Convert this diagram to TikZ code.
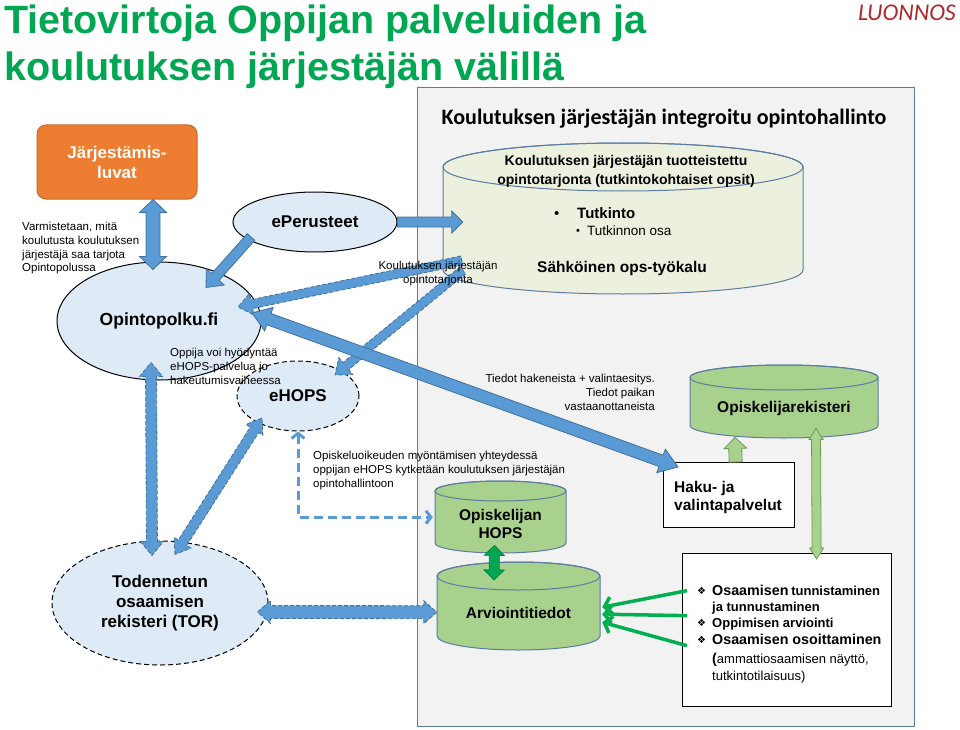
\documentclass[tikz,border=0pt]{standalone}
\usepackage{fontspec}
\setmainfont{Liberation Sans}
\newfontfamily\calibri{Carlito}
\newfontfamily\djv{DejaVu Sans}
\usetikzlibrary{shapes.geometric,arrows.meta,calc}
\definecolor{titlegreen}{HTML}{00A651}
\definecolor{draftred}{HTML}{B0262B}
\definecolor{panelfill}{HTML}{F2F2F2}
\definecolor{panelline}{HTML}{5B7BA0}
\definecolor{cyl1fill}{HTML}{EBF1DE}
\definecolor{cylborder}{HTML}{5B7BA0}
\definecolor{gcyl}{HTML}{A9D18E}
\definecolor{bluefill}{HTML}{5B9BD5}
\definecolor{blueline}{HTML}{41719C}
\definecolor{ellfill}{HTML}{DEEBF7}
\definecolor{orangefill}{HTML}{ED7D31}
\definecolor{orangeline}{HTML}{C96A2A}
\definecolor{lgreen}{HTML}{A9D18E}
\definecolor{lgreenline}{HTML}{6F9A52}
\definecolor{dgreen}{HTML}{00A651}
\definecolor{dgreenline}{HTML}{00843F}
\definecolor{bgreen}{HTML}{00B050}
\newcommand\fs[2]{\fontsize{#1}{#2}\selectfont}
\tikzset{
 lbl/.style={inner sep=0pt, font=\fs{11.5}{13.8}, align=left},
 ell/.style={ellipse, draw=black, line width=1pt, fill=ellfill, inner sep=0pt, align=center, font=\bfseries\fs{17}{20}},
 elldash/.style={ell, dash pattern=on 5pt off 3pt},
 cylline/.style={draw=cylborder, line width=1pt},
 fatblue/.style={fill=bluefill, draw=blueline, line width=0.8pt, line join=miter},
 fatdash/.style={fatblue, dash pattern=on 4pt off 2pt},
 fatlgreen/.style={fill=lgreen, draw=lgreenline, line width=0.8pt},
 fatdgreen/.style={fill=dgreen, draw=dgreenline, line width=0.8pt},
 gline/.style={draw=bgreen, line width=3.5pt, -{Straight Barb[length=7pt,width=17pt]}},
 dline/.style={draw=bluefill, line width=3pt, dash pattern=on 9pt off 5pt, {Straight Barb[length=5pt,width=13pt]}-{Straight Barb[length=5pt,width=13pt]}},
 whitebox/.style={draw=black, line width=1.3pt, fill=white, inner sep=0pt},
 cyltext/.style={inner sep=0pt, font=\bfseries\fs{15.5}{18.5}, align=center},
}
% fat single arrow: [style]{start}{end}{half shaft}{half head}{head length}
\newcommand\fatarrow[6][]{%
  \coordinate (faS) at #2;
  \coordinate (faE) at #3;
  \coordinate (faP) at ($(faE)!#6!(faS)$);
  \draw[#1] ($(faS)!#4!90:(faE)$) -- ($(faP)!#4!-90:(faS)$) -- ($(faP)!#5!-90:(faS)$) -- (faE)
    -- ($(faP)!#5!90:(faS)$) -- ($(faP)!#4!90:(faS)$) -- ($(faS)!#4!-90:(faE)$) -- cycle;
}
% fat double arrow
\newcommand\fatdarrow[6][]{%
  \coordinate (faS) at #2;
  \coordinate (faE) at #3;
  \coordinate (faP) at ($(faE)!#6!(faS)$);
  \coordinate (faQ) at ($(faS)!#6!(faE)$);
  \draw[#1] (faS) -- ($(faQ)!#5!90:(faE)$) -- ($(faQ)!#4!90:(faE)$) -- ($(faP)!#4!-90:(faS)$)
    -- ($(faP)!#5!-90:(faS)$) -- (faE) -- ($(faP)!#5!90:(faS)$) -- ($(faP)!#4!90:(faS)$)
    -- ($(faQ)!#4!-90:(faE)$) -- ($(faQ)!#5!-90:(faE)$) -- cycle;
}
% cylinder outline: {cx}{top}{bottom}{rx}{ry}{fill}
\newcommand\cylshape[6]{%
  \filldraw[cylline, fill=#6] ({#1-#4},{#2+#5}) -- ({#1-#4},{#3-#5})
    arc[start angle=180, end angle=360, x radius=#4pt, y radius=#5pt]
    -- ({#1+#4},{#2+#5})
    arc[start angle=0, end angle=180, x radius=#4pt, y radius=#5pt] -- cycle;
  \draw[cylline] ({#1},{#2+#5}) ellipse[x radius=#4pt, y radius=#5pt];
}
\begin{document}
\begin{tikzpicture}[x=1pt,y=-1pt]
\useasboundingbox (0,0) rectangle (960,730);
\fill[white] (0,0) rectangle (960,730);

% title
\node[anchor=base west, inner sep=0pt, text=titlegreen, font=\bfseries\fs{39.5}{47}] (t1) at (4,34) {Tietovirtoja Oppijan palveluiden ja};
\node[anchor=base west, inner sep=0pt, text=titlegreen, font=\bfseries\fs{39.5}{47}] (t2) at (4,81) {koulutuksen järjestäjän välillä};
\node[anchor=base east, inner sep=0pt, text=draftred, font=\calibri\itshape\fs{24}{28}] (draft) at (956,21) {LUONNOS};

% panel
\node[draw=panelline, line width=1.2pt, fill=panelfill, minimum width=497pt, minimum height=639pt, anchor=north west, inner sep=0pt] (panel) at (417,87) {};
\node[anchor=base, inner sep=0pt, font=\calibri\bfseries\fs{22}{26}] (ptitle) at (664,125) {Koulutuksen järjestäjän integroitu opintohallinto};

% cylinders
\cylshape{623}{143}{294}{180}{24}{cyl1fill}
\node[inner sep=0pt, minimum width=360pt, minimum height=151pt, anchor=north] (cyl1) at (623,143) {};
\cylshape{784}{365}{438}{94}{12.5}{gcyl}
\node[inner sep=0pt, minimum width=188pt, minimum height=73pt, anchor=north] (rek) at (784,365) {};
\cylshape{500.5}{481}{553}{65.5}{10}{gcyl}
\node[inner sep=0pt, minimum width=131pt, minimum height=72pt, anchor=north] (hops) at (500.5,481) {};
\cylshape{518.5}{562}{650}{81.5}{14}{gcyl}
\node[inner sep=0pt, minimum width=163pt, minimum height=88pt, anchor=north] (arv) at (518.5,562) {};

% boxes
\node[whitebox, minimum width=131pt, minimum height=65pt, anchor=north west] (haku) at (663,462) {};
\node[whitebox, minimum width=209pt, minimum height=153pt, anchor=north west] (box) at (682,553) {};

% outside nodes
\node[draw=orangeline, line width=1pt, fill=orangefill, rounded corners=9pt, minimum width=160pt, minimum height=74pt, text=white, font=\bfseries\fs{17}{20}, align=center, inner sep=0pt] (org) at (117,162) {Järjestämis-\\luvat};
\node[ell, minimum width=164pt, minimum height=60pt] (eper) at (315,222) {ePerusteet};
\node[ell, minimum width=204pt, minimum height=118pt, font=\bfseries\fs{17.5}{20}] (opf) at (159,321) {Opintopolku.fi};
\node[elldash, minimum width=122pt, minimum height=70pt] (ehops) at (298,396) {eHOPS};
\node[elldash, minimum width=216pt, minimum height=124pt] (tor) at (160,603) {Todennetun\\osaamisen\\rekisteri (TOR)};

% blue fat arrows
\fatdarrow[fatblue]{([xshift=36pt]org.south)}{($(opf.north)+(-6,8)$)}{7pt}{13.5pt}{13pt}
\fatarrow[fatblue]{($(eper.center)+(-64,15)$)}{($(opf.north)+(47,26)$)}{5pt}{12pt}{14pt}
\fatarrow[fatblue]{(eper.east)}{($(cyl1.west |- eper.east)+(20,0)$)}{5pt}{11pt}{11pt}
\fatarrow[fatdash]{($(cyl1.south west)+(19,-34)$)}{($(opf.center)+(79,-14)$)}{4.5pt}{11pt}{14pt}
\fatarrow[fatdash]{($(cyl1.south west)+(20,-24)$)}{($(ehops.center)+(37,-21)$)}{4.5pt}{11pt}{14pt}
\fatdarrow[fatblue]{($(opf.center)+(93,-8)$)}{($(haku.north west)+(15,5)$)}{6pt}{12.5pt}{18pt}
\fatdarrow[fatdash]{($(opf.south)+(-8,-18)$)}{($(tor.north)+(-8,15)$)}{5.5pt}{11.5pt}{14pt}
\fatdarrow[fatdash]{($(tor.north)+(15,14)$)}{($(ehops.center)+(-36,22)$)}{5pt}{10pt}{14pt}
\fatdarrow[fatdash]{($(tor.east)+(-11,9)$)}{($(arv.west)+(0,6)$)}{6.5pt}{11.5pt}{13pt}

% green fat arrows
\fatarrow[fatlgreen]{($(haku.north)+(6.5,0)$)}{($(rek.south)+(-49,-1)$)}{6.5pt}{11.3pt}{11pt}
\fatdarrow[fatlgreen]{($(rek.south)+(32,-10)$)}{($(box.north)+(29.5,6)$)}{4.5pt}{7pt}{11pt}
\fatdarrow[fatdgreen]{($(hops.south)+(-6,-8)$)}{($(arv.north)+(-24.5,18)$)}{5pt}{10pt}{10pt}

% green line arrows
\draw[gline] ($(box.west)+(5,-39.5)$) -- ($(arv.east)+(2,1)$);
\draw[gline] ($(box.west)+(5,-14.5)$) -- ($(arv.east)+(2,8)$);
\draw[gline] ($(box.west)+(5,15.5)$) -- ($(arv.east)+(2,16)$);

% dashed elbow
\draw[dline] (ehops.south) |- ($(hops.west)+(-2,0)$);

% texts inside
\node[inner sep=0pt, font=\bfseries\fs{14}{19}, align=center] (c1t) at (626,171.5) {Koulutuksen järjestäjän tuotteistettu\\opintotarjonta (tutkintokohtaiset opsit)};
\node[anchor=base west, inner sep=0pt, font=\fs{15}{18}] (bul1) at (554,218) {\textbullet};
\node[anchor=base west, inner sep=0pt, font=\bfseries\fs{15}{18}] (tk) at (577,218) {Tutkinto};
\node[anchor=base west, inner sep=0pt, font=\fs{11}{14}] (bul2) at (576,234) {\textbullet};
\node[anchor=base west, inner sep=0pt, font=\fs{13.5}{16}] (tko) at (587,235) {Tutkinnon osa};
\node[anchor=base, inner sep=0pt, font=\bfseries\fs{15.5}{18}] (ops) at (622,272.5) {Sähköinen ops-työkalu};

\node[cyltext] (rekt) at (784,408) {Opiskelijarekisteri};
\node[cyltext] (hopst) at (500.5,524) {Opiskelijan\\HOPS};
\node[cyltext] (arvt) at (518.5,613) {Arviointitiedot};
\node[cyltext, anchor=north west, align=left] (hakut) at (674,481) {Haku- ja\\valintapalvelut};

% bottom box list
\node[anchor=base west, inner sep=0pt, font=\djv\fs{10}{12}] (bu1) at (697,594) {❖};
\node[anchor=base west, inner sep=0pt, font=\djv\fs{10}{12}] (bu2) at (697,626) {❖};
\node[anchor=base west, inner sep=0pt, font=\djv\fs{10}{12}] (bu3) at (697,643) {❖};
\node[anchor=base west, inner sep=0pt, font=\bfseries] (bt1) at (712,595) {{\fs{14.3}{16}Osaamisen} {\fs{13}{16}tunnistaminen}};
\node[anchor=base west, inner sep=0pt, font=\bfseries\fs{13}{16}] (bt2) at (712,611) {ja tunnustaminen};
\node[anchor=base west, inner sep=0pt, font=\bfseries\fs{13}{16}] (bt3) at (712,627) {Oppimisen arviointi};
\node[anchor=base west, inner sep=0pt, font=\bfseries\fs{14.3}{16}] (bt4) at (712,644) {Osaamisen osoittaminen};
\node[anchor=base west, inner sep=0pt] (bt5) at (712,663) {{\bfseries\fs{14.3}{16}(}{\fs{13}{16}ammattiosaamisen näyttö,}};
\node[anchor=base west, inner sep=0pt, font=\fs{13}{16}] (bt6) at (712,680) {tutkintotilaisuus)};

% labels
\node[lbl, anchor=north west] (varm) at (22,222) {Varmistetaan, mitä\\koulutusta koulutuksen\\järjestäjä saa tarjota\\Opintopolussa};
\node[lbl, anchor=north, align=center] (kjlab) at (438,261) {Koulutuksen järjestäjän\\opintotarjonta};
\node[lbl, anchor=north west] (oppija) at (170,348) {Oppija voi hyödyntää\\eHOPS-palvelua jo\\hakeutumisvaiheessa};
\node[lbl, anchor=north east, align=right] (tiedot) at (655,374) {Tiedot hakeneista + valintaesitys.\\Tiedot paikan\\vastaanottaneista};
\node[lbl, anchor=north west] (opisk) at (313,451) {Opiskeluoikeuden myöntämisen yhteydessä\\oppijan eHOPS kytketään koulutuksen järjestäjän\\opintohallintoon};
\end{tikzpicture}
\end{document}
